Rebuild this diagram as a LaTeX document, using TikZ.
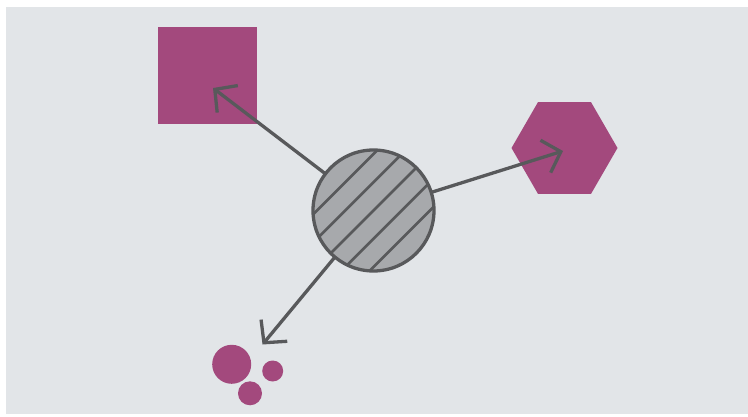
\documentclass[tikz,border=0pt]{standalone}
\usetikzlibrary{arrows.meta,calc}
\definecolor{bgc}{HTML}{E2E5E8}
\definecolor{mag}{HTML}{A3497D}
\definecolor{ink}{HTML}{58595B}
\definecolor{hubfill}{HTML}{A7A9AC}
\tikzset{
  arr/.style={draw=ink, line width=3.3pt, -{Straight Barb[length=16pt,width=34pt]}},
  shapefill/.style={fill=mag, draw=none},
}
\begin{document}
\begin{tikzpicture}[x=1pt,y=-1pt]
\useasboundingbox (0,0) rectangle (748,417);
\fill[white] (0,0) rectangle (748,417);
\fill[bgc] (6,7) rectangle (748,414);
% square
\node[shapefill, minimum width=99pt, minimum height=97pt, inner sep=0pt] (sq) at (207.5,75.5) {};
% hexagon
\coordinate (hex) at (564.5,148);
\fill[mag] (hex) ++(53,0) -- ++(-26.5,45.9) -- ++(-53,0) -- ++(-26.5,-45.9) -- ++(26.5,-45.9) -- ++(53,0) -- cycle;
% dots
\node[shapefill, circle, minimum size=39pt, inner sep=0pt] (d1) at (231.7,364.3) {};
\node[shapefill, circle, minimum size=21pt, inner sep=0pt] (d2) at (272.7,371) {};
\node[shapefill, circle, minimum size=24pt, inner sep=0pt] (d3) at (250,393.3) {};
% hub
\node[circle, fill=hubfill, minimum size=121pt, inner sep=0pt] (hub) at (373.5,210.5) {};
\begin{scope}
  \clip (hub) circle (60.5);
  \foreach \k in {-2,...,2} {
    \draw[ink, line width=2.7pt] ($(hub)+(14.14*\k,14.14*\k)+(-90,90)$) -- ($(hub)+(14.14*\k,14.14*\k)+(90,-90)$);
  }
\end{scope}
\draw[ink, line width=3.3pt] (hub) circle (60.5);
% arrow tips
\coordinate (tA) at (213,88);
\coordinate (tB) at (563,151);
\coordinate (tC) at (262.5,344.5);
\draw[arr] (hub) -- (tA);
\draw[arr] (hub) -- (tB);
\draw[arr] (hub) -- (tC);
\end{tikzpicture}
\end{document}
